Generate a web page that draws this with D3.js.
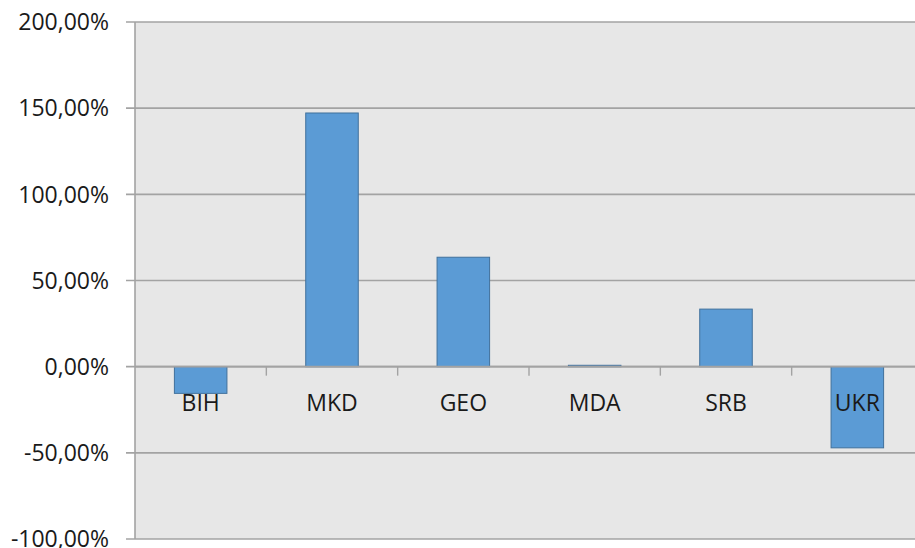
<!DOCTYPE html>
<html>
<head>
<meta charset="utf-8">
<script src="https://cdn.jsdelivr.net/npm/d3@7"></script>
<style>
    body { margin: 0; background: #fff; }
    svg { display: block; }
    .tick-label, .cat-label { font-family: "Open Sans", sans-serif; font-size: 23px; fill: #1a1a1a; }
</style>
</head>
<body>
<svg id="chart"></svg>
<script>
// country codes on the category axis
const countries = ['BIH', 'MKD', 'GEO', 'MDA', 'SRB', 'UKR'];
// change, as a share (1 = 100%)
const changes = [-0.155, 1.472, 0.635, 0.008, 0.334, -0.471];
// value axis ticks
const yTicks = [-1, -0.5, 0, 0.5, 1, 1.5, 2];

class ChangeBarChart {

    constructor(_config) {
        this.config = {
            parentElement: _config.parentElement,
            containerWidth: _config.containerWidth || 915,
            containerHeight: _config.containerHeight || 548,
            margin: {top: 22, right: -8, bottom: 9, left: 135}
        }
        this.initVis();
    }

    initVis() {
        let vis = this;

        vis.width = vis.config.containerWidth - vis.config.margin.left - vis.config.margin.right;
        vis.height = vis.config.containerHeight - vis.config.margin.top - vis.config.margin.bottom;

        vis.xScale = d3.scaleBand()
            .domain(countries)
            .range([0, vis.width])
            .padding(0);

        vis.yScale = d3.scaleLinear()
            .domain([d3.min(yTicks), d3.max(yTicks)])
            .range([vis.height, 0]);

        // european style percent: 200,00%
        vis.fmt = d3.formatLocale({decimal: ',', thousands: '.', grouping: [3], currency: ['', '€'], minus: '-'}).format('.2%');

        vis.svg = d3.select(vis.config.parentElement)
            .attr('width', vis.config.containerWidth)
            .attr('height', vis.config.containerHeight);

        vis.chart = vis.svg.append('g')
            .attr('transform', `translate(${vis.config.margin.left},${vis.config.margin.top})`);

        vis.chart.append('rect')
            .attr('class', 'plot-bg')
            .attr('width', vis.width)
            .attr('height', vis.height)
            .attr('fill', '#e7e7e7');

        vis.renderVis();
    }

    renderVis() {
        let vis = this;

        // gridlines with small ticks sticking out left
        vis.chart.selectAll('.grid')
            .data(yTicks)
            .join('line')
            .attr('class', 'grid')
            .attr('x1', -9)
            .attr('x2', vis.width)
            .attr('y1', d => vis.yScale(d))
            .attr('y2', d => vis.yScale(d))
            .attr('stroke', '#a3a3a3')
            .attr('stroke-width', 1.6);

        vis.chart.selectAll('.tick-label')
            .data(yTicks)
            .join('text')
            .attr('class', 'tick-label')
            .attr('x', -26)
            .attr('y', d => vis.yScale(d))
            .attr('dy', '0.36em')
            .attr('text-anchor', 'end')
            .text(d => vis.fmt(d));

        // value axis line
        vis.chart.append('line')
            .attr('x1', 0).attr('x2', 0)
            .attr('y1', 0).attr('y2', vis.height)
            .attr('stroke', '#a3a3a3')
            .attr('stroke-width', 1.6);

        let barW = vis.xScale.bandwidth() * 0.4;

        vis.chart.selectAll('.bar')
            .data(countries.map((c, i) => ({c: c, v: changes[i]})))
            .join('rect')
            .attr('class', 'bar')
            .attr('x', d => vis.xScale(d.c) + (vis.xScale.bandwidth() - barW) / 2)
            .attr('y', d => vis.yScale(Math.max(0, d.v)))
            .attr('width', barW)
            .attr('height', d => Math.abs(vis.yScale(d.v) - vis.yScale(0)))
            .attr('fill', '#5b9bd5')
            .attr('stroke', '#41719c')
            .attr('stroke-width', 1);

        // category axis on the zero line
        let y0 = vis.yScale(0);
        vis.chart.append('line')
            .attr('x1', 0).attr('x2', vis.width)
            .attr('y1', y0).attr('y2', y0)
            .attr('stroke', '#a3a3a3')
            .attr('stroke-width', 1.6);

        vis.chart.selectAll('.cat-tick')
            .data(countries.slice(1))
            .join('line')
            .attr('class', 'cat-tick')
            .attr('x1', d => vis.xScale(d))
            .attr('x2', d => vis.xScale(d))
            .attr('y1', y0)
            .attr('y2', y0 + 9)
            .attr('stroke', '#a3a3a3')
            .attr('stroke-width', 1.4);

        vis.chart.selectAll('.cat-label')
            .data(countries)
            .join('text')
            .attr('class', 'cat-label')
            .attr('x', d => vis.xScale(d) + vis.xScale.bandwidth() / 2)
            .attr('y', y0 + 44)
            .attr('text-anchor', 'middle')
            .text(d => d);
    }
}

new ChangeBarChart({parentElement: '#chart'});
</script>
</body>
</html>
